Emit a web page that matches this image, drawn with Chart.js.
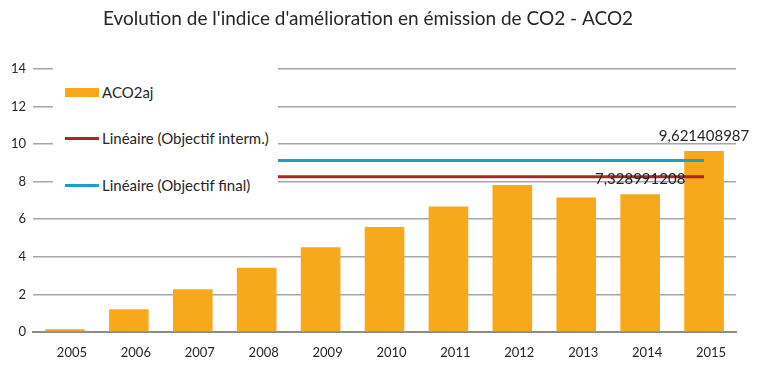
<!DOCTYPE html>
<html>
<head>
<meta charset="utf-8">
<script src="https://cdn.jsdelivr.net/npm/chart.js@4/dist/chart.umd.min.js"></script>
<style>
  html, body { margin: 0; padding: 0; background: #fff; }
  #wrap { position: relative; width: 767px; height: 384px; }
  #legend { position: absolute; left: 53px; top: 66px; width: 225px; height: 138px; background: #fff;
            font-family: Lato, "Open Sans", sans-serif; font-size: 15px; color: #262626; }
  .item { position: absolute; left: 12px; display: flex; align-items: center; white-space: nowrap; }
  .sw { display: inline-block; width: 34px; margin-right: 3px; }
</style>
</head>
<body>
<div id="wrap">
  <canvas id="c" width="767" height="384"></canvas>
  <div id="legend"></div>
</div>
<script>
const title = "Evolution de l'indice d'amélioration en émission de CO2 - ACO2";
const years = ["2005","2006","2007","2008","2009","2010","2011","2012","2013","2014","2015"];
const aco2aj = [0.15, 1.21, 2.28, 3.42, 4.51, 5.58, 6.68, 7.82, 7.16, 7.328991208, 9.621408987];
const objectifInterm = [8.26, 8.26, 8.26, 8.26, 8.26, 8.26, 8.26, 8.26, 8.26, 8.26, 8.26];
const objectifFinal = [9.12, 9.12, 9.12, 9.12, 9.12, 9.12, 9.12, 9.12, 9.12, 9.12, 9.12];
const labelledValues = ["", "", "", "", "", "", "", "", "", "7,328991208", "9,621408987"];
const seriesNames = ["ACO2aj", "Linéaire (Objectif interm.)", "Linéaire (Objectif final)"];
const yTicks = [0, 2, 4, 6, 8, 10, 12, 14];

const ORANGE = '#F8A91B', RED = '#A8272B', BLUE = '#1AA0C4';
const FONT = 'Lato, "Open Sans", sans-serif';

const dataLabelPlugin = {
  id: 'dataLabels',
  afterDatasetsDraw(chart) {
    const ctx = chart.ctx;
    const meta = chart.getDatasetMeta(2);
    ctx.save();
    ctx.font = '15px ' + FONT;
    ctx.fillStyle = '#262626';
    ctx.textAlign = 'center';
    ctx.textBaseline = 'middle';
    meta.data.forEach((bar, i) => {
      if (labelledValues[i]) ctx.fillText(labelledValues[i], bar.x, bar.y - 15);
    });
    ctx.restore();
  }
};

const chart = new Chart(document.getElementById('c'), {
  type: 'bar',
  data: {
    labels: years,
    datasets: [
      { type: 'line', label: seriesNames[1], data: objectifInterm, borderColor: RED, borderWidth: 3,
        pointRadius: 0, fill: false, order: 1 },
      { type: 'line', label: seriesNames[2], data: objectifFinal, borderColor: BLUE, borderWidth: 3,
        pointRadius: 0, fill: false, order: 0 },
      { type: 'bar', label: seriesNames[0], data: aco2aj, backgroundColor: ORANGE,
        barPercentage: 0.62, categoryPercentage: 1, order: 2 }
    ]
  },
  options: {
    responsive: false,
    animation: false,
    events: [],
    layout: { padding: { left: 0, right: 31, top: 0, bottom: 0 } },
    plugins: {
      legend: { display: false },
      tooltip: { enabled: false },
      title: {
        display: true, text: title, color: '#262626',
        font: { family: FONT, size: 19, weight: 'normal' },
        padding: { top: 7, bottom: 39 }
      }
    },
    scales: {
      x: {
        grid: { display: false, drawTicks: false },
        border: { display: true, color: '#8c8c8c', width: 2 },
        ticks: { color: '#262626', font: { family: FONT, size: 13 },
                 padding: 13, labelOffset: 7, maxRotation: 0 },
        afterFit(s) { s.height = 52; }
      },
      y: {
        min: 0, max: 14,
        afterBuildTicks(s) { s.ticks = yTicks.map(v => ({ value: v })); },
        grid: { color: '#a6a6a6', lineWidth: 1.5, drawTicks: false },
        border: { display: false },
        ticks: { color: '#262626', font: { family: FONT, size: 13 }, padding: 7 },
        afterFit(s) { s.width = 33; }
      }
    }
  },
  plugins: [dataLabelPlugin]
});

// HTML legend overlay (white box covering grid/lines like the original)
const legendEl = document.getElementById('legend');
const legendItems = [
  { name: seriesNames[0], color: ORANGE, h: 9, top: 26 },
  { name: seriesNames[1], color: RED, h: 3, top: 72 },
  { name: seriesNames[2], color: BLUE, h: 3, top: 119 }
];
legendItems.forEach(it => {
  const d = document.createElement('div');
  d.className = 'item';
  d.style.top = (it.top - 9) + 'px';
  d.style.height = '18px';
  const sw = document.createElement('span');
  sw.className = 'sw';
  sw.style.height = it.h + 'px';
  sw.style.background = it.color;
  const t = document.createElement('span');
  t.textContent = it.name;
  d.appendChild(sw); d.appendChild(t);
  legendEl.appendChild(d);
});
</script>
</body>
</html>
